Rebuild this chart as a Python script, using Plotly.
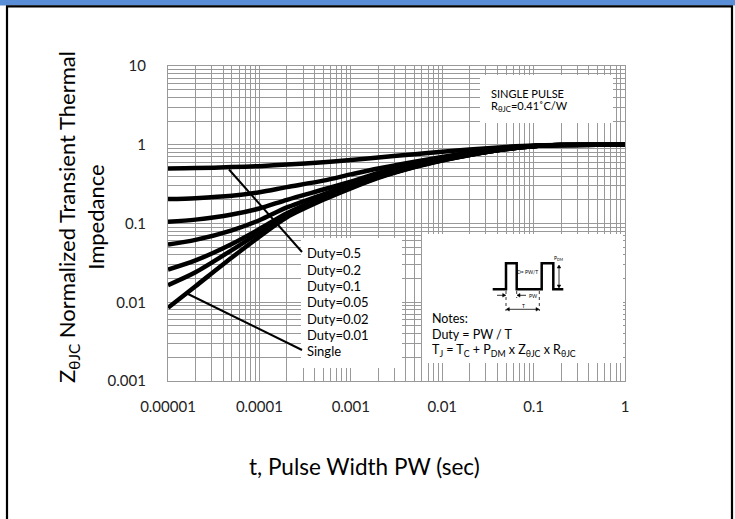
import plotly.graph_objects as go

# ---------------- data ----------------
pulse_width = [1e-5, 2e-5, 5e-5, 1e-4, 2e-4, 5e-4, 1e-3, 2e-3, 5e-3,
               1e-2, 2e-2, 5e-2, 0.1, 0.2, 0.5, 1.0]
duty_0_5  = [0.50, 0.505, 0.52, 0.535, 0.56, 0.60, 0.64, 0.69, 0.76, 0.815, 0.87, 0.94, 0.98, 0.995, 1.0, 1.0]
duty_0_2  = [0.204, 0.21, 0.225, 0.25, 0.29, 0.35, 0.42, 0.50, 0.61, 0.70, 0.79, 0.90, 0.965, 0.99, 1.0, 1.0]
duty_0_1  = [0.105, 0.112, 0.13, 0.155, 0.20, 0.27, 0.34, 0.44, 0.565, 0.665, 0.765, 0.89, 0.965, 0.99, 1.0, 1.0]
duty_0_05 = [0.054, 0.062, 0.082, 0.11, 0.16, 0.235, 0.31, 0.41, 0.545, 0.65, 0.75, 0.885, 0.96, 0.99, 1.0, 1.0]
duty_0_02 = [0.026, 0.034, 0.055, 0.085, 0.135, 0.215, 0.29, 0.39, 0.53, 0.64, 0.745, 0.88, 0.96, 0.99, 1.0, 1.0]
duty_0_01 = [0.0165, 0.024, 0.046, 0.077, 0.128, 0.207, 0.285, 0.385, 0.525, 0.634, 0.743, 0.88, 0.96, 0.99, 1.0, 1.0]
single    = [0.0085, 0.016, 0.037, 0.068, 0.12, 0.20, 0.28, 0.38, 0.52, 0.63, 0.74, 0.88, 0.96, 0.99, 1.0, 1.0]

series_names = ["Duty=0.5", "Duty=0.2", "Duty=0.1", "Duty=0.05", "Duty=0.02", "Duty=0.01", "Single"]
series_values = [duty_0_5, duty_0_2, duty_0_1, duty_0_05, duty_0_02, duty_0_01, single]

x_tickvals = [1e-5, 1e-4, 1e-3, 1e-2, 1e-1, 1]
x_ticktext = ["0.00001", "0.0001", "0.001", "0.01", "0.1", "1"]
y_tickvals = [1e-3, 1e-2, 1e-1, 1, 10]
y_ticktext = ["0.001", "0.01", "0.1", "1", "10"]

# ---------------- layout helpers ----------------
W, H = 735, 519
L, R, T, B = 168, 625, 66, 381
FONT = "Lato"


def px(x):
    return (x - L) / (R - L)


def py(y):
    return (B - y) / (B - T)


fig = go.Figure()
for name, vals in zip(series_names, series_values):
    fig.add_trace(go.Scatter(x=pulse_width, y=vals, mode="lines", name=name,
                             line=dict(color="black", width=4.5, shape="spline", smoothing=0.8),
                             showlegend=False, hoverinfo="skip"))

grid = "#999999"
axis_common = dict(type="log", showgrid=True, gridcolor=grid, gridwidth=1.2,
                   showline=True, linecolor=grid, linewidth=1.2, mirror=True,
                   ticks="", zeroline=False,
                   tickfont=dict(family=FONT, size=15, color="#222"))
fig.update_xaxes(**axis_common, range=[-5, 0], tickvals=x_tickvals, ticktext=x_ticktext,
                 minor=dict(dtick="D1", showgrid=True, gridcolor=grid, gridwidth=1.2, ticks=""),
                 ticklabelstandoff=12)
fig.update_yaxes(**axis_common, range=[-3, 1], tickvals=y_tickvals, ticktext=y_ticktext,
                 minor=dict(dtick="D1", showgrid=True, gridcolor=grid, gridwidth=1.2, ticks=""),
                 ticklabelstandoff=18)

shapes = []


def line(x0, y0, x1, y1, width=1.0, dash="solid", color="black"):
    shapes.append(dict(type="line", xref="paper", yref="paper", x0=px(x0), y0=py(y0), x1=px(x1), y1=py(y1),
                       line=dict(color=color, width=width, dash=dash), layer="above"))


def head(x, y, direction, size=3.0):
    # small filled triangle, tip at (x, y)
    if direction == "up":
        pts = [(x, y), (x - size * 0.6, y + size), (x + size * 0.6, y + size)]
    elif direction == "down":
        pts = [(x, y), (x - size * 0.6, y - size), (x + size * 0.6, y - size)]
    elif direction == "left":
        pts = [(x, y), (x + size, y - size * 0.6), (x + size, y + size * 0.6)]
    else:
        pts = [(x, y), (x - size, y - size * 0.6), (x - size, y + size * 0.6)]
    p = "M " + " L ".join(f"{px(a):.5f},{py(b):.5f}" for a, b in pts) + " Z"
    shapes.append(dict(type="path", xref="paper", yref="paper", path=p, fillcolor="black",
                       line=dict(color="black", width=0.5), layer="above"))


# outer frame
shapes.append(dict(type="rect", xref="paper", yref="paper", x0=px(-2), x1=px(740), y0=py(5.5), y1=py(-2),
                   fillcolor="#5A8ED6", line=dict(width=0), layer="above"))
line(6, 6.3, 733, 6.3, width=2.2)
line(7, 6, 7, 525, width=2.2)
line(732, 6, 732, 525, width=2.2)

# white boxes over the grid
for (x0, x1, y0, y1) in [(480, 613, 75, 123), (301, 402, 238, 368), (422, 623, 234, 363)]:
    shapes.append(dict(type="rect", xref="paper", yref="paper", x0=px(x0), x1=px(x1), y0=py(y1), y1=py(y0),
                       fillcolor="white", line=dict(width=0), layer="above"))

# pointer lines
line(229, 169.5, 302, 252, width=2)
line(188, 294, 302, 350, width=2)

# pulse diagram waveform
wave = [(492.7, 289.3), (506, 289.3), (506, 263.3), (516.7, 263.3), (516.7, 289.3), (541.7, 289.3),
        (541.7, 263.3), (553.3, 263.3), (553.3, 289.3), (563.3, 289.3)]
path = "M " + " L ".join(f"{px(a):.5f},{py(b):.5f}" for a, b in wave)
shapes.append(dict(type="path", xref="paper", yref="paper", path=path,
                   line=dict(color="black", width=2.5), layer="above"))
for (x, y0, y1) in [(506, 291, 311), (516.7, 291, 298), (539.3, 291, 311)]:
    line(x, y0, x, y1, width=0.8, dash="dot")
# PDM arrow
line(559, 266, 559, 287, width=0.8)
head(559, 265, "up")
head(559, 288, "down")
# T arrow
line(507, 309.3, 538.5, 309.3, width=0.8)
head(506.3, 309.3, "left")
head(539, 309.3, "right")
# PW arrows (pointing inward)
line(497, 295.3, 505.5, 295.3, width=0.8)
head(505.7, 295.3, "right")
line(517.5, 295.3, 526, 295.3, width=0.8)
head(517, 295.3, "left")

annotations = []
# duty labels
for i, name in enumerate(series_names):
    annotations.append(dict(xref="paper", yref="paper", x=px(305), y=py(253.3 + i * 16.3),
                            text=name, showarrow=False, xanchor="left", yanchor="middle",
                            font=dict(family=FONT, size=13, color="black")))
# single pulse box text
annotations.append(dict(xref="paper", yref="paper", x=px(489), y=py(93), text="SINGLE PULSE",
                        showarrow=False, xanchor="left", yanchor="middle",
                        font=dict(family=FONT, size=11, color="black")))
annotations.append(dict(xref="paper", yref="paper", x=px(489), y=py(106),
                        text="R<sub>θJC</sub>=0.41˚C/W",
                        showarrow=False, xanchor="left", yanchor="middle",
                        font=dict(family=FONT, size=11, color="black")))
# notes text
notes = ["Notes:", "Duty = PW / T",
         "T<sub>J</sub> = T<sub>C</sub> + P<sub>DM</sub> x Z<sub>θJC</sub> x R<sub>θJC</sub>"]
for i, txt in enumerate(notes):
    annotations.append(dict(xref="paper", yref="paper", x=px(430), y=py(318 + i * 16), text=txt,
                            showarrow=False, xanchor="left", yanchor="middle",
                            font=dict(family=FONT, size=12.5, color="black")))
# tiny diagram labels
for (x, y, txt) in [(558, 258.5, "P<sub>DM</sub>"), (527, 272, "D= PW/T"), (533, 295.5, "PW"), (523, 305.5, "T")]:
    annotations.append(dict(xref="paper", yref="paper", x=px(x), y=py(y), text=txt, showarrow=False,
                            xanchor="center", yanchor="middle", font=dict(family=FONT, size=5, color="black")))
# axis titles
annotations.append(dict(xref="paper", yref="paper", x=px(81), y=py(217),
                        text="Z<sub>θJC</sub> Normalized Transient Thermal<br>Impedance",
                        textangle=-90, showarrow=False, xanchor="center", yanchor="middle",
                        font=dict(family=FONT, size=22, color="black")))
annotations.append(dict(xref="paper", yref="paper", x=px(364), y=py(466),
                        text="t, Pulse Width PW (sec)", showarrow=False,
                        xanchor="center", yanchor="middle",
                        font=dict(family=FONT, size=22.5, color="black")))

fig.update_layout(width=W, height=H, margin=dict(l=L, r=W - R, t=T, b=H - B),
                  paper_bgcolor="white", plot_bgcolor="white",
                  shapes=shapes, annotations=annotations)

fig.write_html("out.html", config={"displayModeBar": False},
               post_script="document.body.style.margin='0';")
